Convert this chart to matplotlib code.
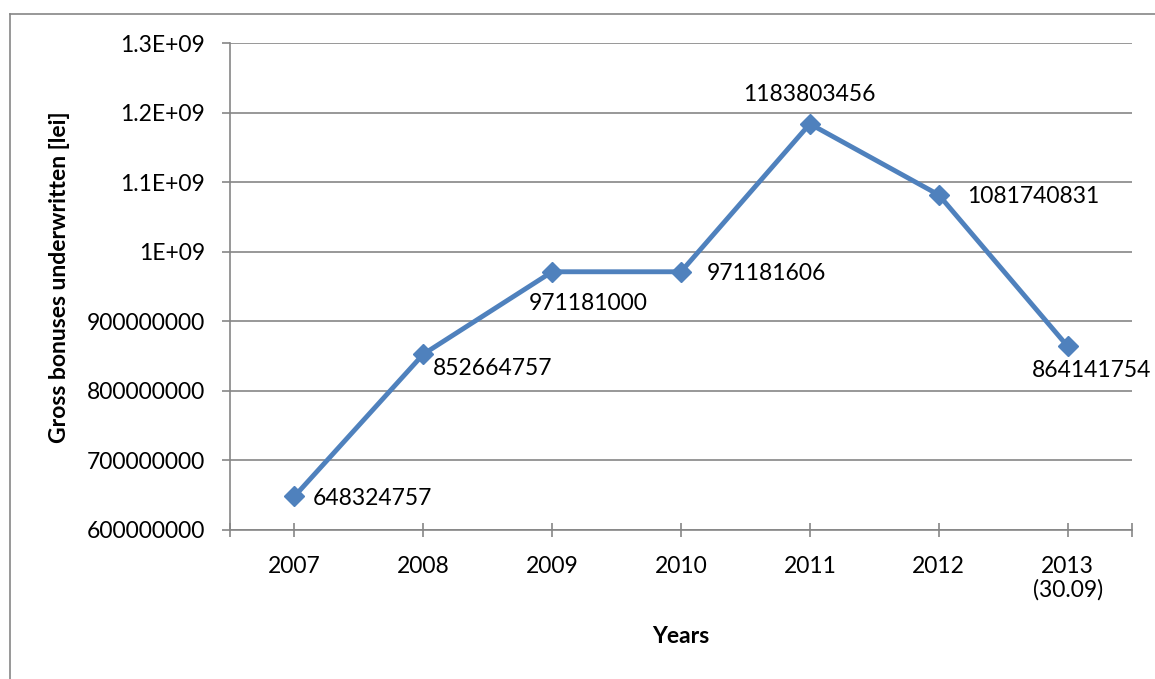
# gross bonuses underwritten per year, excel style line chart

import matplotlib.pyplot as plt
from matplotlib.lines import Line2D

years = ["2007", "2008", "2009", "2010", "2011", "2012", "2013\n(30.09)"]
bonuses = [648324757, 852664757, 971181000, 971181606, 1183803456, 1081740831, 864141754]
y_ticks = [6e8, 7e8, 8e8, 9e8, 1e9, 1.1e9, 1.2e9, 1.3e9]
y_tick_labels = ["600000000", "700000000", "800000000", "900000000",
                 "1E+09", "1.1E+09", "1.2E+09", "1.3E+09"]

# label offsets in pixels, found by eye
label_offsets = [(18, -2), (10, -14), (36, -32), (26, -2), (0, 29), (28, -2), (24, -24)]
label_align = ["left", "left", "center", "left", "center", "left", "center"]

plt.rcParams["font.family"] = ["Lato", "DejaVu Sans"]
blue = "#4F81BD"
grey = "#868686"
fs = 16.5

fig = plt.figure(figsize=(11.55, 6.79), dpi=100)
ax = fig.add_axes([230 / 1155, 1 - 530 / 679, 902 / 1155, 487 / 679])

x = list(range(len(years)))
ax.plot(x, bonuses, color=blue, lw=3.5, marker="D", ms=10, zorder=3, clip_on=False)

for i, v in enumerate(bonuses):
    ax.annotate(str(v), (i, v), xytext=label_offsets[i], textcoords="offset pixels",
                ha=label_align[i], va="center", fontsize=fs)

ax.set_xlim(-0.5, len(years) - 0.5)
ax.set_ylim(6e8, 1.3e9)
ax.set_yticks(y_ticks)
ax.set_yticklabels(y_tick_labels, fontsize=fs)
ax.set_xticks(x)
ax.set_xticklabels(years, fontsize=fs, linespacing=1.1)
ax.yaxis.grid(True, color=grey, lw=1.2)
ax.set_axisbelow(True)

for s in ["top", "right"]:
    ax.spines[s].set_visible(False)
for s in ["left", "bottom"]:
    ax.spines[s].set_color(grey)
    ax.spines[s].set_linewidth(1.2)

ax.tick_params(axis="y", length=6, color=grey, width=1.2, pad=12)
ax.tick_params(axis="x", direction="inout", length=10, color=grey, width=1.2, pad=14)
ax.tick_params(axis="x", which="minor", direction="inout", length=10, color=grey, width=1.2)
ax.set_xticks([-0.5, len(years) - 0.5], minor=True)

ax.set_ylabel("Gross bonuses underwritten [lei]", fontsize=fs, fontweight="bold")
ax.yaxis.set_label_coords(-0.177, 0.52)
ax.set_xlabel("Years", fontsize=fs, fontweight="bold", labelpad=18)

# outer chart frame, cut off at right and bottom
fig.lines.append(Line2D([10 / 1155, 10 / 1155], [0, 1 - 14 / 679], transform=fig.transFigure, color=grey, lw=1.2))
fig.lines.append(Line2D([10 / 1155, 1], [1 - 14 / 679, 1 - 14 / 679], transform=fig.transFigure, color=grey, lw=1.2))

fig.savefig("out.png", dpi=100)
